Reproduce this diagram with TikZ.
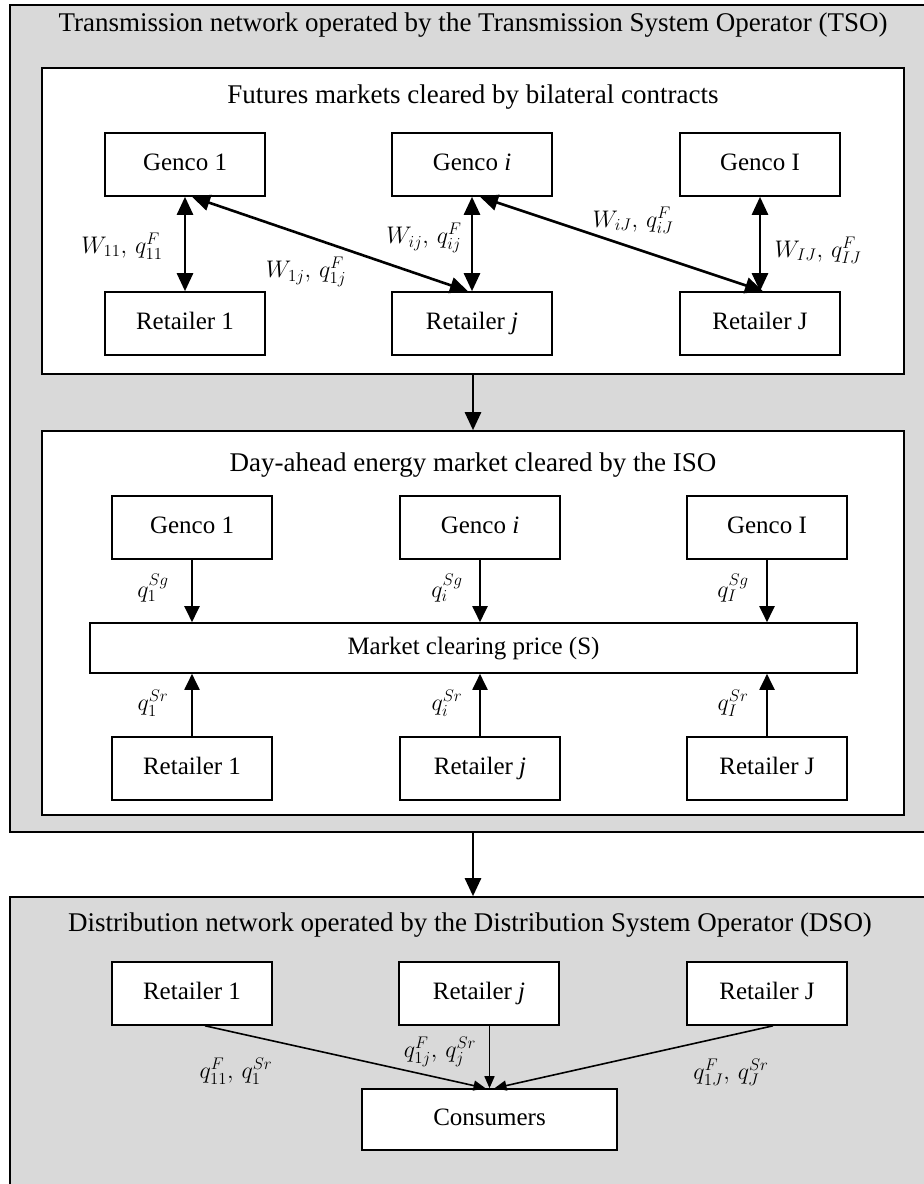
\RequirePackage{fix-cm}
\documentclass[tikz,border=0pt]{standalone}
\usepackage{fontspec}
\setmainfont{Liberation Serif}
\usetikzlibrary{arrows.meta}
\definecolor{panel}{RGB}{217,217,217}

\begin{document}
\begin{tikzpicture}[x=1pt,y=-1pt,
    frame/.style={draw,line width=1.6pt,inner sep=0pt},
    unit/.style={draw,fill=white,line width=1.6pt,inner sep=0pt,minimum width=160pt,minimum height=63pt,text height=17pt,text depth=5pt,font=\fontsize{25}{30}\selectfont},
    head/.style={font=\fontsize{27}{32}\selectfont},
    lab/.style={font=\fontsize{24}{28}\selectfont},
    big/.style={line width=2.6pt,{Triangle[length=18pt,width=16pt]}-{Triangle[length=18pt,width=16pt]}},
    flow/.style={line width=2pt,-{Triangle[length=16pt,width=15pt]}},
    thin/.style={line width=1.6pt,-{Triangle[length=12pt,width=10pt]}}]
  \useasboundingbox (0,0) rectangle (924,1184);
  % transmission side
  \node (tso) at (475,418.5) [frame,fill=panel,minimum width=930pt,minimum height=827pt] {};
  \node (tsot) at (473,25) [head] {Transmission network operated by the Transmission System Operator (TSO)};
  \node (fut) at (473,221) [frame,fill=white,minimum width=862pt,minimum height=306pt] {};
  \node (futt) at (473,97) [head] {Futures markets cleared by bilateral contracts};
  \node (fg1) at (185,164.5) [unit] {Genco 1};
  \node (fgi) at (472,164.5) [unit] {Genco \textit{i}};
  \node (fgI) at (760,164.5) [unit] {Genco I};
  \node (fr1) at (185,323.5) [unit] {Retailer 1};
  \node (frj) at (472,323.5) [unit] {Retailer \textit{j}};
  \node (frJ) at (760,323.5) [unit] {Retailer J};
  \draw[big] (fg1) to (fr1);
  \draw[big] ([xshift=7pt]fg1.south) to ([xshift=-4pt]frj.north);
  \draw[big] (fgi) to (frj);
  \draw[big] ([xshift=8pt]fgi.south) to ([xshift=3pt]frJ.north);
  \draw[big] (fgI) to (frJ);
  \node (w11) at (122,246) [lab] {$W_{11},\,q^{F}_{11}$};
  \node (w1j) at (306,272) [lab] {$W_{1j},\,q^{F}_{1j}$};
  \node (wij) at (424,238) [lab] {$W_{ij},\,q^{F}_{ij}$};
  \node (wiJ) at (633,220) [lab] {$W_{iJ},\,q^{F}_{iJ}$};
  \node (wIJ) at (818,250) [lab] {$W_{IJ},\,q^{F}_{IJ}$};
  % day-ahead market
  \node (da) at (473,623) [frame,fill=white,minimum width=862pt,minimum height=384pt] {};
  \node (dat) at (473,465) [head] {Day-ahead energy market cleared by the ISO};
  \node (dg1) at (192,527.5) [unit] {Genco 1};
  \node (dgi) at (480,527.5) [unit] {Genco \textit{i}};
  \node (dgI) at (767,527.5) [unit] {Genco I};
  \node (mcp) at (473.5,648) [unit,minimum width=767pt,minimum height=50pt] {Market clearing price (S)};
  \node (dr1) at (192,768.5) [unit] {Retailer 1};
  \node (drj) at (480,768.5) [unit] {Retailer \textit{j}};
  \node (drJ) at (767,768.5) [unit] {Retailer J};
  \draw[big,-{Triangle[length=18pt,width=16pt]}] (fut) to (da);
  \foreach \n in {dg1,dgi,dgI} {
    \draw[flow] (\n) to (\n |- mcp.north);
  }
  \foreach \n in {dr1,drj,drJ} {
    \draw[flow] (\n) to (\n |- mcp.south);
  }
  \node (sg1) at (153,588) [lab] {$q^{Sg}_{1}$};
  \node (sgi) at (447,588) [lab] {$q^{Sg}_{i}$};
  \node (sgI) at (733,588) [lab] {$q^{Sg}_{I}$};
  \node (sr1) at (153,703) [lab] {$q^{Sr}_{1}$};
  \node (sri) at (447,703) [lab] {$q^{Sr}_{i}$};
  \node (srI) at (733,703) [lab] {$q^{Sr}_{I}$};
  % distribution side
  \node (dso) at (475,1046) [frame,fill=panel,minimum width=930pt,minimum height=298pt] {};
  \node (dsot) at (470,925) [head] {Distribution network operated by the Distribution System Operator (DSO)};
  \draw[big,-{Triangle[length=18pt,width=16pt]}] (fut.south |- tso.south) to (fut.south |- dso.north);
  \node (pr1) at (192,993.5) [unit] {Retailer 1};
  \node (prj) at (479,993.5) [unit] {Retailer \textit{j}};
  \node (prJ) at (767,993.5) [unit] {Retailer J};
  \node (cons) at (489.5,1119.5) [unit,minimum width=255pt,minimum height=61pt] {Consumers};
  \draw[thin] ([xshift=13pt]pr1.south) to ([xshift=-4pt]cons.north);
  \draw[thin] (prj.south -| cons.north) to (cons.north);
  \draw[thin] ([xshift=6pt]prJ.south) to ([xshift=5pt]cons.north);
  \node (c11) at (236,1071) [lab] {$q^{F}_{11},\,q^{Sr}_{1}$};
  \node (c1j) at (440,1052) [lab] {$q^{F}_{1j},\,q^{Sr}_{j}$};
  \node (c1J) at (731,1072) [lab] {$q^{F}_{1J},\,q^{Sr}_{J}$};
\end{tikzpicture}
\end{document}
